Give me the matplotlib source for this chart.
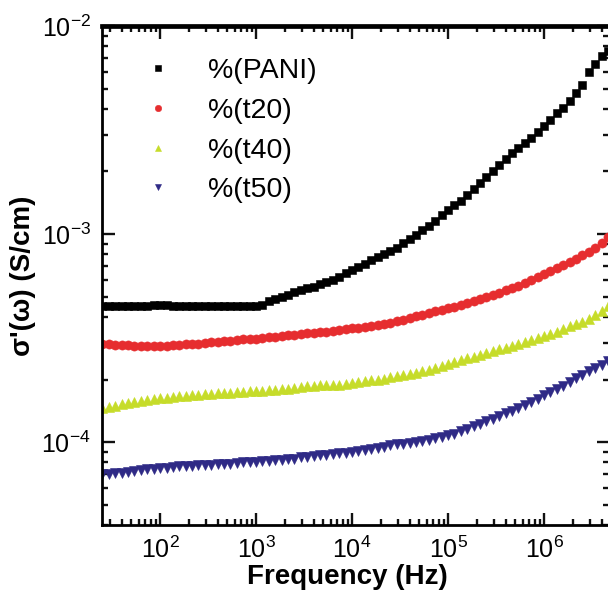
import matplotlib

matplotlib.use('Agg')
import matplotlib.pyplot as plt
import numpy as np
from matplotlib.ticker import LogLocator, NullFormatter

plt.rcParams['font.family'] = 'Liberation Sans'
plt.rcParams['mathtext.fontset'] = 'custom'
plt.rcParams['mathtext.rm'] = 'Liberation Sans'
plt.rcParams['mathtext.it'] = 'Liberation Sans:italic'
plt.rcParams['mathtext.bf'] = 'Liberation Sans:bold'

# measurement frequencies (Hz), 15 points per decade
freq = [
    25.1, 29.3, 34.1, 39.8, 46.4, 54.1, 63.1, 73.6, 85.8,
    100, 117, 136, 158, 185, 215, 251, 293, 341, 398, 464, 541, 631, 736, 858,
    1.0e3, 1.166e3, 1.359e3, 1.585e3, 1.848e3, 2.154e3, 2.512e3, 2.929e3,
    3.415e3, 3.981e3, 4.642e3, 5.412e3, 6.310e3, 7.356e3, 8.577e3,
    1.0e4, 1.166e4, 1.359e4, 1.585e4, 1.848e4, 2.154e4, 2.512e4, 2.929e4,
    3.415e4, 3.981e4, 4.642e4, 5.412e4, 6.310e4, 7.356e4, 8.577e4,
    1.0e5, 1.166e5, 1.359e5, 1.585e5, 1.848e5, 2.154e5, 2.512e5, 2.929e5,
    3.415e5, 3.981e5, 4.642e5, 5.412e5, 6.310e5, 7.356e5, 8.577e5,
    1.0e6, 1.166e6, 1.359e6, 1.585e6, 1.848e6, 2.154e6, 2.512e6, 2.929e6,
    3.415e6, 3.981e6, 4.642e6,
]

# conductivity, units of 1e-4 S/cm
pani = [
    4.50, 4.50, 4.49, 4.50, 4.50, 4.51, 4.50, 4.52, 4.56,
    4.58, 4.54, 4.52, 4.51, 4.50, 4.50, 4.50, 4.50, 4.50, 4.49, 4.50, 4.50, 4.50, 4.50, 4.50,
    4.51, 4.55, 4.75, 4.90, 5.00, 5.10, 5.25, 5.40, 5.50, 5.60, 5.75, 5.90, 6.05, 6.25, 6.50,
    6.70, 6.95, 7.20, 7.50, 7.80, 8.05, 8.30, 8.60, 9.05, 9.50, 9.95, 10.5, 11.0, 11.6, 12.3,
    13.0, 13.8, 14.5, 15.5, 16.5, 17.6, 18.8, 20.0, 21.5, 23.0, 24.5, 26.0, 27.5, 29.0, 31.0,
    33.0, 35.5, 38.0, 40.5, 43.5, 47.5, 52.0, 60.0, 66.0, 72.0, 76.0,
]
t20 = [
    2.96, 2.95, 2.94, 2.93, 2.92, 2.91, 2.90, 2.89, 2.89,
    2.90, 2.91, 2.92, 2.93, 2.95, 2.96, 2.98, 3.00, 3.02, 3.04, 3.06, 3.08, 3.10, 3.12, 3.13,
    3.15, 3.17, 3.19, 3.21, 3.23, 3.26, 3.29, 3.31, 3.33, 3.36, 3.38, 3.40, 3.43, 3.46, 3.49,
    3.52, 3.55, 3.59, 3.63, 3.67, 3.71, 3.75, 3.81, 3.87, 3.95, 4.03, 4.10, 4.18, 4.25, 4.32,
    4.40, 4.48, 4.58, 4.68, 4.77, 4.87, 4.97, 5.08, 5.22, 5.36, 5.50, 5.65, 5.82, 6.00, 6.20,
    6.42, 6.62, 6.85, 7.10, 7.35, 7.62, 7.90, 8.20, 8.60, 9.10, 9.70,
]
t40 = [
    1.46, 1.48, 1.50, 1.52, 1.54, 1.56, 1.58, 1.59, 1.61,
    1.63, 1.64, 1.65, 1.66, 1.67, 1.68, 1.69, 1.70, 1.71, 1.72, 1.73, 1.73, 1.74, 1.75, 1.76,
    1.76, 1.77, 1.78, 1.79, 1.80, 1.81, 1.83, 1.84, 1.86, 1.87, 1.88, 1.88, 1.88, 1.89, 1.90,
    1.92, 1.94, 1.96, 1.98, 2.00, 2.02, 2.05, 2.08, 2.10, 2.13, 2.16, 2.19, 2.23, 2.27, 2.32,
    2.37, 2.42, 2.47, 2.53, 2.58, 2.63, 2.68, 2.73, 2.79, 2.85, 2.91, 2.98, 3.04, 3.11, 3.18,
    3.25, 3.32, 3.40, 3.50, 3.60, 3.70, 3.80, 3.92, 4.08, 4.28, 4.50,
]
# units of 1e-5 S/cm
t50 = [
    7.00, 7.05, 7.10, 7.15, 7.20, 7.30, 7.35, 7.40, 7.45,
    7.50, 7.55, 7.60, 7.65, 7.70, 7.70, 7.75, 7.80, 7.80, 7.85, 7.90, 7.90, 7.95, 8.00, 8.00,
    8.05, 8.10, 8.15, 8.20, 8.25, 8.30, 8.35, 8.45, 8.50, 8.60, 8.65, 8.70, 8.80, 8.85, 8.90,
    9.00, 9.10, 9.20, 9.30, 9.40, 9.50, 9.65, 9.75, 9.80, 9.90, 10.0, 10.15, 10.3, 10.45, 10.6,
    10.8, 11.0, 11.3, 11.6, 11.9, 12.2, 12.6, 13.0, 13.4, 13.8, 14.2, 14.6, 15.1, 15.6, 16.2,
    16.8, 17.4, 18.0, 18.7, 19.5, 20.3, 21.1, 22.0, 22.8, 23.6, 24.5,
]

labels = ['%(PANI)', '%(t20)', '%(t40)', '%(t50)']
series = [np.array(pani) * 1e-4, np.array(t20) * 1e-4,
          np.array(t40) * 1e-4, np.array(t50) * 1e-5]
markers = ['s', 'o', '^', 'v']
colors = ['#000000', '#e62d2f', '#c6dc2a', '#2f2a86']
msizes = [6.0, 6.6, 7.0, 7.0]

fig = plt.figure(figsize=(6.08, 5.96), dpi=100)
ax = fig.add_axes([0.1678, 0.1191, 0.8339, 0.8372])

for y, m, c, ms, lab in zip(series, markers, colors, msizes, labels):
    ax.plot(freq, y, linestyle='none', marker=m, color=c, markersize=ms,
            markeredgewidth=0.4, markeredgecolor=c, label=lab, clip_on=True)

ax.set_xscale('log')
ax.set_yscale('log')
ax.set_xlim(24.9, 4.75e6)
ax.set_ylim(4.0e-5, 1.0e-2)

ax.xaxis.set_major_locator(LogLocator(base=10, numticks=20))
ax.xaxis.set_minor_locator(LogLocator(base=10, subs=np.arange(2, 10), numticks=20))
ax.yaxis.set_major_locator(LogLocator(base=10, numticks=20))
ax.yaxis.set_minor_locator(LogLocator(base=10, subs=np.arange(2, 10), numticks=20))
ax.xaxis.set_minor_formatter(NullFormatter())
ax.yaxis.set_minor_formatter(NullFormatter())

ax.tick_params(which='both', direction='in', top=True, right=True, width=1.7,
               labelsize=18, color='#111111')
ax.tick_params(which='major', length=9, pad=8)
ax.tick_params(which='minor', length=4.5)

for side in ['left', 'bottom', 'right']:
    ax.spines[side].set_linewidth(2.0)
ax.spines['top'].set_linewidth(3.4)

ax.set_xlabel('Frequency (Hz)', fontsize=20, fontweight='bold')
ax.xaxis.label.set_verticalalignment('baseline')
ax.xaxis.set_label_coords(0.484, -0.118)
ax.set_ylabel("σ'(ω) (S/cm)", fontsize=20, fontweight='bold')
ax.yaxis.set_label_coords(-0.13, 0.50)

ax.legend(loc='upper left', bbox_to_anchor=(0.066, 0.958), frameon=False,
          numpoints=1, handlelength=0.8, handletextpad=1.35, labelspacing=0.48,
          fontsize=20.5, markerscale=0.7, borderaxespad=0)

fig.savefig('out.png', dpi=100, facecolor='white')
